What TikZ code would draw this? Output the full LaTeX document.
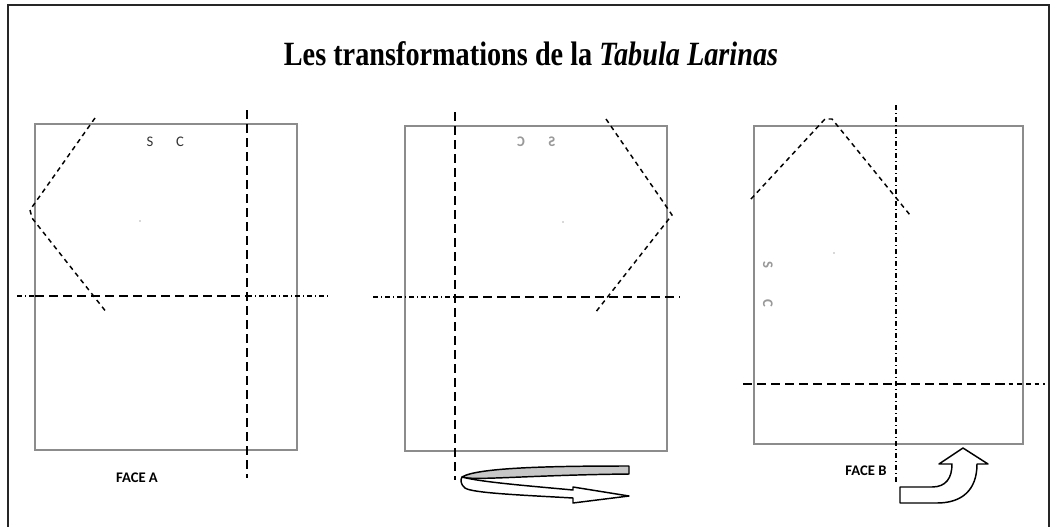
\documentclass[tikz,border=0pt]{standalone}
\usepackage{fontspec}
\setmainfont{Liberation Serif}
\newfontfamily\calib{Carlito}
\begin{document}
\begin{tikzpicture}[x=0.75pt,y=-0.75pt,
  tablet/.style={draw=black!45,line width=0.8pt},
  longdash/.style={line width=1.2pt,dash pattern=on 7pt off 3.5pt},
  shortdash/.style={line width=1.1pt,dash pattern=on 3.5pt off 3pt},
  dashdotted/.style={line width=1.1pt,dash pattern=on 4pt off 2pt on 1pt off 2pt},
  facelabel/.style={font=\calib\bfseries\fontsize{11}{13}\selectfont,inner sep=0pt},
  letter/.style={font=\calib\fontsize{11}{13}\selectfont,inner sep=0pt,text=black!80},
  ghost/.style={font=\calib\bfseries\fontsize{11}{13}\selectfont,inner sep=0pt,text=black!40},
  ribbon/.style={draw=black,line width=1.1pt,line join=round}]
\useasboundingbox (0,0) rectangle (1051,526);
% outer frame
\draw[line width=1.6pt,black!85] (8,540) -- (8,5) -- (1049,5) -- (1049,540);
% title
\node[inner sep=0pt,anchor=base] (title) at (531,65)
  {\scalebox{0.865}[1.04]{\fontsize{24.5}{28}\selectfont\bfseries Les transformations de la \textit{Tabula Larinas}}};

% ---------- Face A ----------
\draw[tablet] (35,124) rectangle (297,450);
\draw[longdash] (247,110) -- (247,478);
\draw[dashdotted] (17,296) -- (35,296);
\draw[longdash,line width=1.4pt] (35,296) -- (247,296);
\draw[dashdotted] (247,296) -- (328,296);
\draw[shortdash] (95,118) -- (30,210) -- (32,218) -- (107,313);
\node[letter] (sA) at (150,142) {S};
\node[letter] (cA) at (180,142) {C};
\fill[black!30] (140,221) circle (0.9);
\node[facelabel] (faceA) at (137,478) {FACE A};

% ---------- Middle (reversed) ----------
\draw[tablet] (405,126) rectangle (667,451);
\draw[longdash] (455,112) -- (455,480);
\draw[dashdotted] (373,297) -- (455,297);
\draw[longdash,line width=1.4pt] (455,297) -- (680,297);
\draw[shortdash] (606,119) -- (668,209) -- (672,215) -- (595,313);
\node[ghost] (cM) at (521,142) {\reflectbox{C}};
\node[ghost] (sM) at (552,142) {\reflectbox{S}};
\fill[black!30] (563,222) circle (0.9);
% U-turn ribbon arrow
\draw[ribbon,fill=black!22] (629,466) .. controls (560,466) and (478,467) .. (462,477)
   .. controls (472,481) and (530,475) .. (629,474) -- cycle;
\draw[ribbon,fill=white] (462,477) .. controls (480,482) and (530,486) .. (573,490)
   -- (573,487) -- (629,496) -- (573,503) -- (573,498)
   .. controls (520,495) and (472,493) .. (465,488) .. controls (461,485) and (460,480) .. (462,477) -- cycle;

% ---------- Face B ----------
\draw[tablet] (754,126) rectangle (1023,444);
\draw[dashdotted] (896,105) -- (896,483);
\draw[longdash,line width=1.4pt] (743,384) -- (1000,384);
\draw[shortdash] (1000,384) -- (1045,384);
\draw[shortdash] (751,199) -- (825,119) -- (832,119) -- (910,215);
\node[ghost] (sB) at (768,265) {\rotatebox{-90}{S}};
\node[ghost] (cB) at (768,303) {\rotatebox{-90}{C}};
\fill[black!30] (834,253) circle (0.9);
\node[facelabel] (faceB) at (866,471) {FACE B};
% bent arrow
\draw[ribbon,fill=white] (900,487) -- (932,487) .. controls (946,487) and (952,478) .. (952,464)
   -- (939,464) -- (963,448) -- (988,464) -- (977,464)
   .. controls (977,490) and (962,503) .. (937,503) -- (900,503) -- cycle;
\end{tikzpicture}
\end{document}
